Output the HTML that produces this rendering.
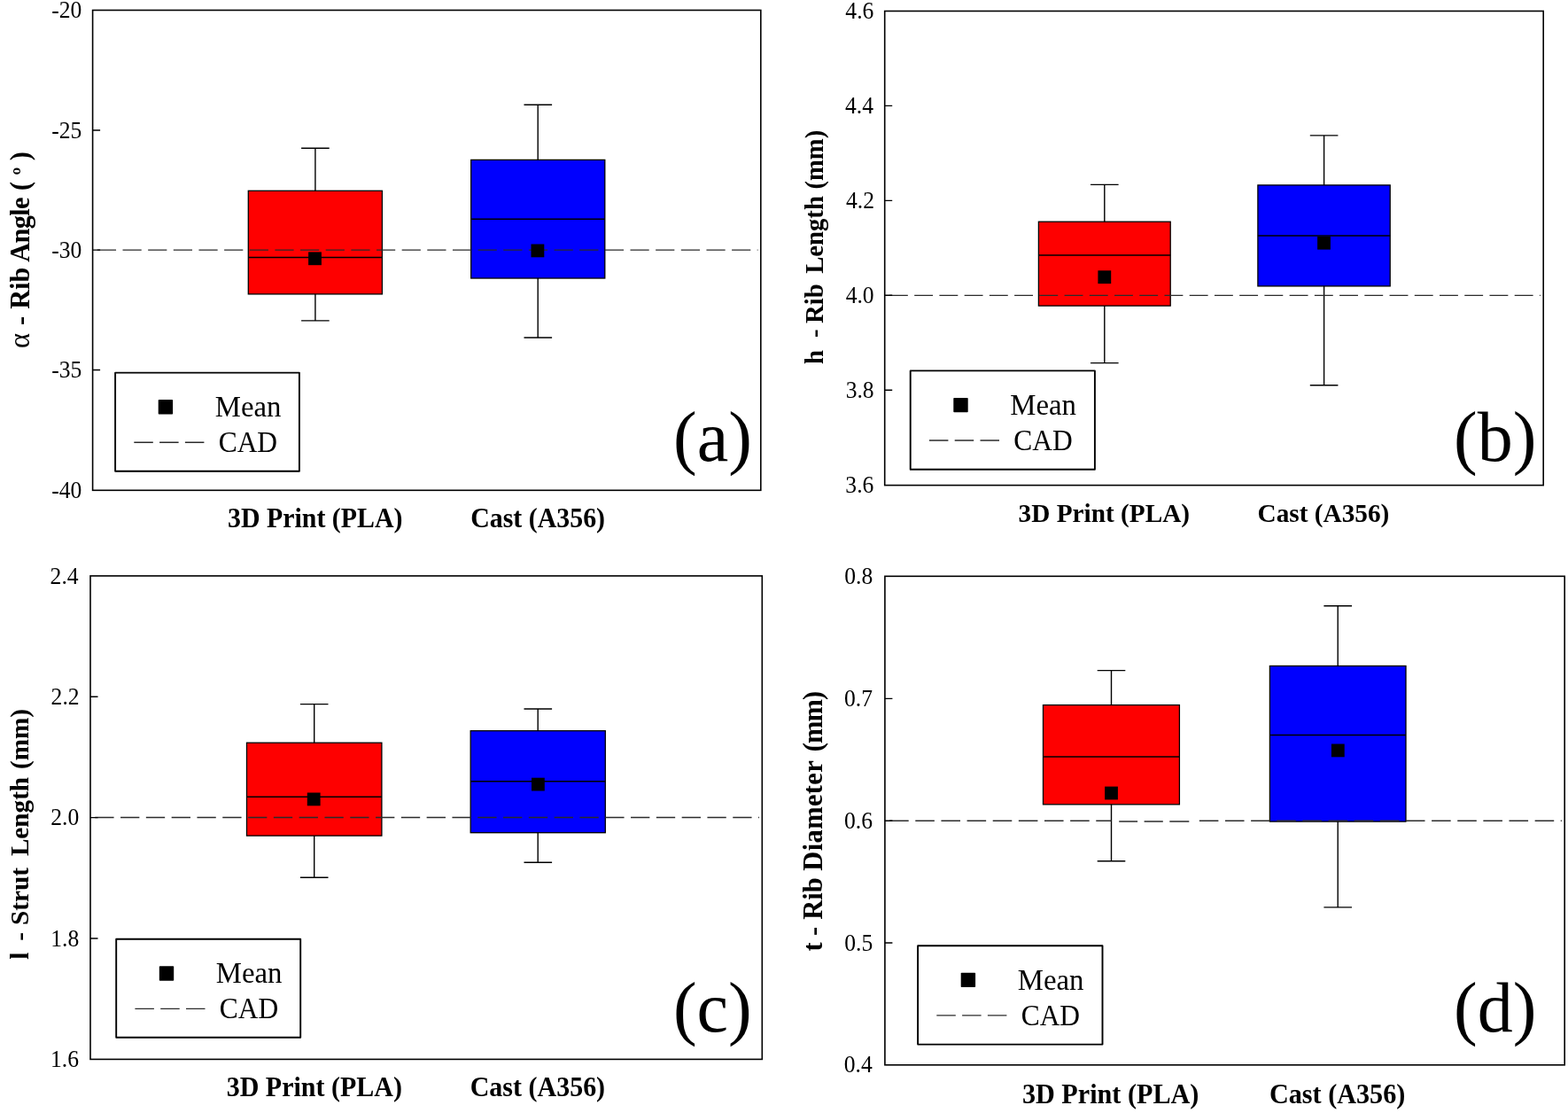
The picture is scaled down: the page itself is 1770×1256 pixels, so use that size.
<!DOCTYPE html>
<html lang="en"><head><meta charset="utf-8"><title>Box plots: geometric deviations of 3D printed (PLA) and cast (A356) lattices</title>
<style>html,body{margin:0;padding:0;background:#fff;}body{width:1770px;height:1256px;overflow:hidden;}svg{display:block;}text{font-family:"Liberation Serif", serif;fill:#000;white-space:pre;}</style>
</head><body>
<svg width="1770" height="1256" viewBox="0 0 1770 1256" role="img" aria-label="Box plots of rib angle, rib length, strut length and rib diameter for 3D printed PLA and cast A356 samples">
<defs><filter id="soft" x="0" y="0" width="100%" height="100%" filterUnits="userSpaceOnUse" color-interpolation-filters="sRGB"><feGaussianBlur stdDeviation="0.45"/></filter></defs>
<rect width="1770" height="1256" fill="#fff"/>
<g filter="url(#soft)">
<rect width="1770" height="1256" fill="#fff"/>
<g id="panel-a">
<path d="M355.9 167.2V361.9M340.1 167.2h31.6M340.1 361.9h31.6" stroke="#000" stroke-width="1.4" fill="none"/>
<rect x="280.3" y="215.3" width="151.1" height="116.6" fill="#fe0000" stroke="#000" stroke-width="1.3"/>
<line x1="280.3" y1="290.5" x2="431.4" y2="290.5" stroke="#000" stroke-width="1.5"/>
<path d="M607.2 118.2V381.0M591.5 118.2h31.6M591.5 381.0h31.6" stroke="#000" stroke-width="1.4" fill="none"/>
<rect x="531.7" y="180.4" width="151.1" height="133.6" fill="#0000fe" stroke="#000" stroke-width="1.3"/>
<line x1="531.7" y1="247.2" x2="682.8" y2="247.2" stroke="#000" stroke-width="1.5"/>
<line x1="109.85" y1="282.1" x2="855.50" y2="282.1" stroke="#2b2b2b" stroke-width="1.35" stroke-dasharray="21.20 7.45"/>
<rect x="348.1" y="284.4" width="14.8" height="14.8" fill="#000"/>
<rect x="599.5" y="275.5" width="14.8" height="14.8" fill="#000"/>
<rect x="104.6" y="11.5" width="754.2" height="541.8" fill="none" stroke="#000" stroke-width="1.6"/>
<path d="M104.6 147.0h8.5M104.6 282.1h8.5M104.6 417.5h8.5" stroke="#000" stroke-width="1.4" fill="none"/>
<text transform="translate(58.25,20.10) scale(0.9480,1.0000)" font-size="27.00">-20</text>
<text transform="translate(58.25,155.60) scale(0.9480,1.0000)" font-size="27.00">-25</text>
<text transform="translate(58.25,290.70) scale(0.9480,1.0000)" font-size="27.00">-30</text>
<text transform="translate(58.25,426.10) scale(0.9480,1.0000)" font-size="27.00">-35</text>
<text transform="translate(58.25,561.60) scale(0.9480,1.0000)" font-size="27.00">-40</text>
<rect x="130.1" y="420.6" width="207.8" height="111.2" fill="#fff" stroke="#000" stroke-width="1.9" stroke-linejoin="round"/>
<rect x="178.7" y="451.1" width="16.4" height="16.4" rx="0.8" fill="#000"/>
<text transform="translate(242.72,469.90)" font-size="32.80">Mean</text>
<line x1="151.3" y1="499.2" x2="230.6" y2="499.2" stroke="#2b2b2b" stroke-width="1.35" stroke-dasharray="21.5 7.3"/>
<text transform="translate(246.64,509.90) scale(0.9600,1.0000)" font-size="32.80">CAD</text>
<text transform="translate(760.00,520.00)" font-size="80.00">(a)</text>
<text transform="translate(257.00,594.60) scale(1.0000,1.0350)" font-size="29.90" font-weight="bold">3D Print (PLA)</text>
<text transform="translate(531.21,594.60) scale(1.0000,1.0350)" font-size="29.90" font-weight="bold">Cast (A356)</text>
<text transform="translate(32.80,0) rotate(-90) scale(1,1.030)" font-size="30.30" font-weight="bold"><tspan x="-392.97" font-size="32.50" font-weight="normal">α </tspan><tspan x="-366.90">- </tspan><tspan x="-348.78">Rib </tspan><tspan x="-295.85" letter-spacing="-0.598">Angle </tspan><tspan x="-214.93">( </tspan><tspan x="-197.57" font-size="26.50">º </tspan><tspan x="-181.25">)</tspan></text>
</g>
<g id="panel-b">
<path d="M1246.8 208.4V409.6M1231.0 208.4h31.6M1231.0 409.6h31.6" stroke="#000" stroke-width="1.4" fill="none"/>
<rect x="1172.4" y="250.2" width="148.8" height="94.9" fill="#fe0000" stroke="#000" stroke-width="1.3"/>
<line x1="1172.4" y1="287.9" x2="1321.2" y2="287.9" stroke="#000" stroke-width="1.5"/>
<path d="M1494.6 152.9V434.8M1478.8 152.9h31.6M1478.8 434.8h31.6" stroke="#000" stroke-width="1.4" fill="none"/>
<rect x="1419.9" y="208.9" width="149.3" height="114.0" fill="#0000fe" stroke="#000" stroke-width="1.3"/>
<line x1="1419.9" y1="266.0" x2="1569.2" y2="266.0" stroke="#000" stroke-width="1.5"/>
<line x1="1003.95" y1="333.3" x2="1738.90" y2="333.3" stroke="#2b2b2b" stroke-width="1.35" stroke-dasharray="20.89 7.34"/>
<rect x="1239.4" y="305.3" width="14.8" height="14.8" fill="#000"/>
<rect x="1487.1" y="266.8" width="14.8" height="14.8" fill="#000"/>
<rect x="998.7" y="12.5" width="743.5" height="535.1" fill="none" stroke="#000" stroke-width="1.6"/>
<path d="M998.7 119.4h8.5M998.7 226.4h8.5M998.7 333.3h8.5M998.7 440.3h8.5" stroke="#000" stroke-width="1.4" fill="none"/>
<text transform="translate(954.37,21.10) scale(0.9480,1.0000)" font-size="27.00">4.6</text>
<text transform="translate(953.99,128.00) scale(0.9480,1.0000)" font-size="27.00">4.4</text>
<text transform="translate(955.01,235.00) scale(0.9480,1.0000)" font-size="27.00">4.2</text>
<text transform="translate(954.63,341.90) scale(0.9480,1.0000)" font-size="27.00">4.0</text>
<text transform="translate(954.63,448.90) scale(0.9480,1.0000)" font-size="27.00">3.8</text>
<text transform="translate(954.37,555.80) scale(0.9480,1.0000)" font-size="27.00">3.6</text>
<rect x="1027.7" y="418.4" width="208.2" height="111.3" fill="#fff" stroke="#000" stroke-width="1.9" stroke-linejoin="round"/>
<rect x="1076.3" y="448.9" width="16.4" height="16.4" rx="0.8" fill="#000"/>
<text transform="translate(1140.32,467.70)" font-size="32.80">Mean</text>
<line x1="1048.9" y1="497.0" x2="1128.2" y2="497.0" stroke="#2b2b2b" stroke-width="1.35" stroke-dasharray="21.5 7.3"/>
<text transform="translate(1144.24,507.70) scale(0.9600,1.0000)" font-size="32.80">CAD</text>
<text transform="translate(1641.00,519.60)" font-size="80.00">(b)</text>
<text transform="translate(1149.53,588.70) scale(1.0000,1.0350)" font-size="29.30" font-weight="bold">3D Print (PLA)</text>
<text transform="translate(1419.54,588.70) scale(1.0000,1.0350)" font-size="29.30" font-weight="bold">Cast (A356)</text>
<text transform="translate(929.20,0) rotate(-90)" font-size="28.70" font-weight="bold"><tspan x="-411.01">h  </tspan><tspan x="-381.04">- </tspan><tspan x="-365.06">Rib  </tspan><tspan x="-308.84">Length </tspan><tspan x="-213.61">(mm)</tspan></text>
</g>
<g id="panel-c">
<path d="M354.7 794.6V990.3M338.9 794.6h31.6M338.9 990.3h31.6" stroke="#000" stroke-width="1.4" fill="none"/>
<rect x="278.5" y="838.2" width="152.4" height="104.9" fill="#fe0000" stroke="#000" stroke-width="1.3"/>
<line x1="278.5" y1="899.3" x2="430.9" y2="899.3" stroke="#000" stroke-width="1.5"/>
<path d="M607.2 800.0V973.2M591.5 800.0h31.6M591.5 973.2h31.6" stroke="#000" stroke-width="1.4" fill="none"/>
<rect x="531.2" y="824.7" width="152.1" height="115.0" fill="#0000fe" stroke="#000" stroke-width="1.3"/>
<line x1="531.2" y1="881.8" x2="683.3" y2="881.8" stroke="#000" stroke-width="1.5"/>
<line x1="107.25" y1="922.5" x2="857.00" y2="922.5" stroke="#2b2b2b" stroke-width="1.35" stroke-dasharray="21.31 7.49"/>
<rect x="346.8" y="894.5" width="14.8" height="14.8" fill="#000"/>
<rect x="600.0" y="877.7" width="14.8" height="14.8" fill="#000"/>
<rect x="102.0" y="649.9" width="758.3" height="545.5" fill="none" stroke="#000" stroke-width="1.6"/>
<path d="M102.0 786.3h8.5M102.0 922.6h8.5M102.0 1059.0h8.5" stroke="#000" stroke-width="1.4" fill="none"/>
<text transform="translate(56.59,658.50) scale(0.9480,1.0000)" font-size="27.00">2.4</text>
<text transform="translate(57.61,794.90) scale(0.9480,1.0000)" font-size="27.00">2.2</text>
<text transform="translate(57.23,931.20) scale(0.9480,1.0000)" font-size="27.00">2.0</text>
<text transform="translate(57.23,1067.60) scale(0.9480,1.0000)" font-size="27.00">1.8</text>
<text transform="translate(56.97,1204.00) scale(0.9480,1.0000)" font-size="27.00">1.6</text>
<rect x="131.2" y="1059.8" width="208.0" height="110.9" fill="#fff" stroke="#000" stroke-width="1.9" stroke-linejoin="round"/>
<rect x="179.8" y="1090.3" width="16.4" height="16.4" rx="0.8" fill="#000"/>
<text transform="translate(243.82,1109.10)" font-size="32.80">Mean</text>
<line x1="152.4" y1="1138.4" x2="231.7" y2="1138.4" stroke="#2b2b2b" stroke-width="1.35" stroke-dasharray="21.5 7.3"/>
<text transform="translate(247.74,1149.10) scale(0.9600,1.0000)" font-size="32.80">CAD</text>
<text transform="translate(759.90,1163.60)" font-size="80.00">(c)</text>
<text transform="translate(255.70,1237.00) scale(1.0000,1.0350)" font-size="30.00" font-weight="bold">3D Print (PLA)</text>
<text transform="translate(530.70,1237.00) scale(1.0000,1.0350)" font-size="30.00" font-weight="bold">Cast (A356)</text>
<text transform="translate(32.30,0) rotate(-90)" font-size="29.20" font-weight="bold"><tspan x="-1082.79">l  </tspan><tspan x="-1061.72">- </tspan><tspan x="-1043.94">Strut  </tspan><tspan x="-966.10">Length </tspan><tspan x="-868.09">(mm)</tspan></text>
</g>
<g id="panel-d">
<path d="M1254.5 756.6V971.7M1238.7 756.6h31.6M1238.7 971.7h31.6" stroke="#000" stroke-width="1.4" fill="none"/>
<rect x="1177.5" y="795.6" width="153.9" height="112.2" fill="#fe0000" stroke="#000" stroke-width="1.3"/>
<line x1="1177.5" y1="854.0" x2="1331.4" y2="854.0" stroke="#000" stroke-width="1.5"/>
<path d="M1510.2 683.8V1023.9M1494.4 683.8h31.6M1494.4 1023.9h31.6" stroke="#000" stroke-width="1.4" fill="none"/>
<rect x="1433.4" y="751.5" width="153.6" height="175.6" fill="#0000fe" stroke="#000" stroke-width="1.3"/>
<line x1="1433.4" y1="829.5" x2="1587.0" y2="829.5" stroke="#000" stroke-width="1.5"/>
<line x1="1004.15" y1="926.2" x2="1254.50" y2="926.2" stroke="#2b2b2b" stroke-width="1.35" stroke-dasharray="21.56 7.58"/>
<path d="M1263.2 927.0h20.9M1291.6 927.0h21.2M1320.3 927.0h22" stroke="#2b2b2b" stroke-width="1.35" fill="none"/>
<line x1="1353.83" y1="926.2" x2="1762.90" y2="926.2" stroke="#2b2b2b" stroke-width="1.35" stroke-dasharray="21.56 7.58"/>
<rect x="1247.1" y="887.6" width="14.8" height="14.8" fill="#000"/>
<rect x="1502.9" y="839.5" width="14.8" height="14.8" fill="#000"/>
<rect x="998.9" y="650.3" width="767.3" height="551.5" fill="none" stroke="#000" stroke-width="1.6"/>
<path d="M998.9 788.4h8.5M998.9 926.3h8.5M998.9 1064.0h8.5" stroke="#000" stroke-width="1.4" fill="none"/>
<text transform="translate(953.33,658.90) scale(0.9480,1.0000)" font-size="27.00">0.8</text>
<text transform="translate(953.07,797.00) scale(0.9480,1.0000)" font-size="27.00">0.7</text>
<text transform="translate(953.07,934.90) scale(0.9480,1.0000)" font-size="27.00">0.6</text>
<text transform="translate(953.33,1072.60) scale(0.9480,1.0000)" font-size="27.00">0.5</text>
<text transform="translate(952.69,1210.40) scale(0.9480,1.0000)" font-size="27.00">0.4</text>
<rect x="1036.1" y="1067.2" width="208.4" height="111.4" fill="#fff" stroke="#000" stroke-width="1.9" stroke-linejoin="round"/>
<rect x="1084.7" y="1097.7" width="16.4" height="16.4" rx="0.8" fill="#000"/>
<text transform="translate(1148.72,1116.50)" font-size="32.80">Mean</text>
<line x1="1057.3" y1="1145.8" x2="1136.6" y2="1145.8" stroke="#2b2b2b" stroke-width="1.35" stroke-dasharray="21.5 7.3"/>
<text transform="translate(1152.64,1156.50) scale(0.9600,1.0000)" font-size="32.80">CAD</text>
<text transform="translate(1641.00,1163.70)" font-size="80.00">(d)</text>
<text transform="translate(1153.89,1244.60) scale(1.0000,1.0350)" font-size="30.20" font-weight="bold">3D Print (PLA)</text>
<text transform="translate(1432.89,1244.60) scale(1.0000,1.0350)" font-size="30.20" font-weight="bold">Cast (A356)</text>
<text transform="translate(927.80,0) rotate(-90) scale(1,1.030)" font-size="30.50" font-weight="bold"><tspan x="-1073.46">t </tspan><tspan x="-1055.93">- </tspan><tspan x="-1037.73">Rib </tspan><tspan x="-982.75" letter-spacing="0.379">Diameter </tspan><tspan x="-848.14" letter-spacing="-0.913">(mm)</tspan></text>
</g>
</g>
</svg></body></html>
